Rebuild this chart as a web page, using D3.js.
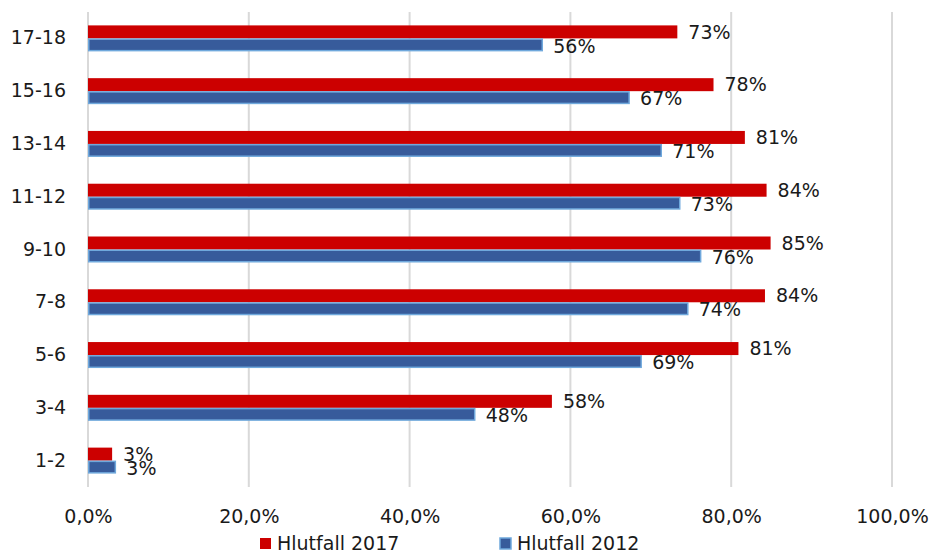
<!DOCTYPE html>
<html><head><meta charset="utf-8">
<script src="https://cdn.jsdelivr.net/npm/d3@7/dist/d3.min.js"></script>
<style>body{margin:0;background:#fff;} text{font-family:"DejaVu Sans",sans-serif;}</style>
</head><body><svg id="c" width="931" height="555"></svg>
<script>
const categories = ["17-18","15-16","13-14","11-12","9-10","7-8","5-6","3-4","1-2"];
const values2017 = [73.3,77.8,81.7,84.4,84.9,84.2,80.9,57.7,3.0];
const values2012 = [56.5,67.3,71.3,73.6,76.2,74.6,68.8,48.1,3.4];
const labels2017 = ["73%","78%","81%","84%","85%","84%","81%","58%","3%"];
const labels2012 = ["56%","67%","71%","73%","76%","74%","69%","48%","3%"];
const xTicks = [0,20,40,60,80,100];
const seriesNames = ["Hlutfall 2017","Hlutfall 2012"];

const svg = d3.select("#c");
const m = {left:88, right:892, top:12, bottom:487};
const x = d3.scaleLinear().domain([0,100]).range([m.left,m.right]);
const y = d3.scaleBand().domain(categories).range([m.top,m.bottom]);
const bh = 13;
const fs = 19;

// gridlines
svg.append("g").selectAll("line").data(xTicks).join("line")
  .attr("x1",d=>x(d)).attr("x2",d=>x(d)).attr("y1",m.top).attr("y2",m.bottom)
  .attr("stroke","#d9d9d9").attr("stroke-width",2);

// x axis labels
const xa = svg.append("g").attr("transform",`translate(0,${m.bottom})`)
  .call(d3.axisBottom(x).tickValues(xTicks).tickSize(0).tickPadding(23)
    .tickFormat(d=>d.toFixed(1).replace(".",",")+"%"));
xa.select(".domain").remove();
xa.selectAll("text").attr("font-size",fs).attr("fill","#1a1a1a").attr("font-family","DejaVu Sans");

// y axis labels
const ya = svg.append("g").attr("transform",`translate(${m.left},0)`)
  .call(d3.axisLeft(y).tickSize(0).tickPadding(22));
ya.select(".domain").remove();
ya.selectAll("text").attr("font-size",fs).attr("fill","#1a1a1a").attr("font-family","DejaVu Sans");

const mid = d=>y(d)+y.bandwidth()/2;

// bars 2017
svg.append("g").selectAll("rect").data(categories).join("rect")
  .attr("x",x(0)).attr("y",d=>mid(d)-bh)
  .attr("width",(d,i)=>x(values2017[i])-x(0)).attr("height",bh)
  .attr("fill","#cc0000");
// bars 2012
svg.append("g").selectAll("rect").data(categories).join("rect")
  .attr("x",x(0)+0.75).attr("y",d=>mid(d)+0.75)
  .attr("width",(d,i)=>x(values2012[i])-x(0)-0.75).attr("height",bh-1.5)
  .attr("fill","#375b9b").attr("stroke","#6fa8dc").attr("stroke-width",1.5);

// labels
svg.append("g").selectAll("text").data(categories).join("text")
  .attr("x",(d,i)=>x(values2017[i])+11).attr("y",d=>mid(d)-bh/2)
  .attr("dy","0.35em").attr("font-size",fs).attr("fill","#1a1a1a")
  .text((d,i)=>labels2017[i]);
svg.append("g").selectAll("text").data(categories).join("text")
  .attr("x",(d,i)=>x(values2012[i])+11).attr("y",d=>mid(d)+bh/2+1)
  .attr("dy","0.35em").attr("font-size",fs).attr("fill","#1a1a1a")
  .text((d,i)=>labels2012[i]);

// legend
const lg = svg.append("g");
const lx = [260,500];
const lcol = ["#cc0000","#375b9b"];
seriesNames.forEach((n,i)=>{
  lg.append("rect").attr("x",lx[i]).attr("y",538).attr("width",11).attr("height",11)
    .attr("fill",lcol[i]).attr("stroke",i===1?"#6fa8dc":"none").attr("stroke-width",1.5);
  lg.append("text").attr("x",lx[i]+17).attr("y",543).attr("dy","0.35em")
    .attr("font-size",fs).attr("fill","#1a1a1a").text(n);
});
</script></body></html>
